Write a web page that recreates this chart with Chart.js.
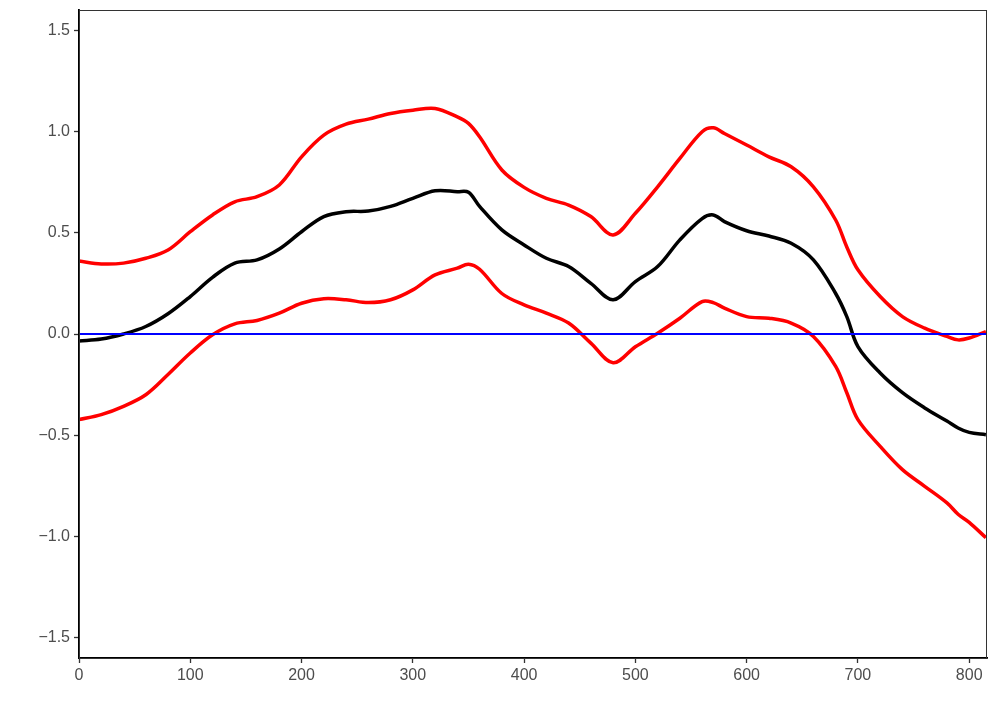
<!DOCTYPE html>
<html>
<head>
<meta charset="utf-8">
<script src="https://cdn.jsdelivr.net/npm/chart.js@4/dist/chart.umd.min.js"></script>
<style>
  html, body { margin: 0; padding: 0; background: #fff; }
  #wrap { width: 996px; height: 720px; }
</style>
</head>
<body>
<div id="wrap"><canvas id="chart" width="996" height="720"></canvas></div>
<script>
// positions along x
var xVals = [0,20,40,60,80,100,120,140,160,180,200,220,240,260,280,300,320,340,350,360,
  380,400,420,440,460,480,500,520,540,560,570,580,600,620,640,660,680,690,700,720,
  740,760,780,790,800,815];

// black middle line
var meanVals = [-0.034,-0.025,0.0,0.037,0.10,0.185,0.28,0.35,0.366,0.42,
  0.505,0.58,0.604,0.607,0.63,0.67,0.707,0.703,0.70,0.63,
  0.514,0.44,0.374,0.333,0.25,0.169,0.259,0.333,0.465,0.57,
  0.588,0.555,0.51,0.484,0.448,0.366,0.20,0.086,-0.062,-0.193,
  -0.29,-0.365,-0.43,-0.464,-0.486,-0.497];

// red upper band
var upperVals = [0.36,0.346,0.35,0.374,0.415,0.505,0.588,0.653,0.678,0.736,
  0.875,0.982,1.036,1.061,1.089,1.105,1.114,1.072,1.04,0.974,
  0.81,0.724,0.67,0.637,0.58,0.489,0.596,0.727,0.867,0.999,
  1.018,0.99,0.933,0.875,0.826,0.727,0.563,0.43,0.317,0.185,
  0.086,0.029,-0.012,-0.029,-0.02,0.012];

// red lower band
var lowerVals = [-0.423,-0.398,-0.357,-0.30,-0.20,-0.094,-0.004,0.05,0.067,0.103,
  0.152,0.174,0.169,0.155,0.169,0.218,0.292,0.325,0.345,0.32,
  0.20,0.144,0.103,0.054,-0.045,-0.142,-0.063,0.004,0.078,0.16,
  0.155,0.128,0.086,0.078,0.054,-0.012,-0.16,-0.29,-0.423,-0.555,
  -0.67,-0.752,-0.834,-0.89,-0.93,-1.006];

var refLine = [0, 0];
var xTicks = [0,100,200,300,400,500,600,700,800];
var yTicks = [-1.5,-1.0,-0.5,0.0,0.5,1.0,1.5];

function toPts(ys) {
  return ys.map(function(y, i) { return {x: xVals[i], y: y}; });
}

// box round the plot
var frame = {
  id: 'frame',
  afterDraw: function(chart) {
    var a = chart.chartArea, c = chart.ctx;
    c.save();
    c.strokeStyle = '#333';
    c.lineWidth = 1;
    c.strokeRect(a.left + 0.5, a.top + 0.5, a.right - a.left - 1, a.bottom - a.top);
    c.restore();
  }
};

var fmt = function(v) {
  return Number(v).toFixed(1).replace('-', '\u2212');
};

new Chart(document.getElementById('chart').getContext('2d'), {
  type: 'line',
  data: {
    datasets: [
      { data: [{x: 0, y: refLine[0]}, {x: 816, y: refLine[1]}], borderColor: '#0000ff', borderWidth: 1.8, tension: 0 },
      { data: toPts(meanVals), borderColor: '#000000', borderWidth: 3.5 },
      { data: toPts(upperVals), borderColor: '#ff0000', borderWidth: 3.5 },
      { data: toPts(lowerVals), borderColor: '#ff0000', borderWidth: 3.5 }
    ]
  },
  options: {
    responsive: false,
    animation: false,
    events: [],
    elements: { point: { radius: 0 }, line: { tension: 0.35, fill: false } },
    layout: { padding: { left: 0, top: 10, right: 9, bottom: 0 } },
    plugins: { legend: { display: false }, tooltip: { enabled: false } },
    scales: {
      x: {
        type: 'linear', min: 0, max: 816,
        afterBuildTicks: function(s) { s.ticks = xTicks.map(function(v) { return {value: v}; }); },
        afterFit: function(s) { s.height = 62; s.paddingLeft = 0; s.paddingRight = 0; },
        grid: { drawOnChartArea: false, drawTicks: true, tickLength: 5, color: '#333', tickWidth: 1.3 },
        border: { color: '#000', width: 1.8 },
        ticks: { color: '#4d4d4d', font: { family: 'Liberation Sans', size: 16 }, padding: 3, maxRotation: 0, callback: function(v) { return String(v); } }
      },
      y: {
        type: 'linear', min: -1.6, max: 1.6,
        afterBuildTicks: function(s) { s.ticks = yTicks.map(function(v) { return {value: v}; }); },
        afterFit: function(s) { s.width = 79; s.paddingTop = 0; s.paddingBottom = 0; },
        grid: { drawOnChartArea: false, drawTicks: true, tickLength: 5, color: '#333', tickWidth: 1.3 },
        border: { color: '#000', width: 1.8 },
        ticks: { color: '#4d4d4d', font: { family: 'Liberation Sans', size: 16 }, padding: 4, callback: fmt }
      }
    }
  },
  plugins: [frame]
});
</script>
</body>
</html>
